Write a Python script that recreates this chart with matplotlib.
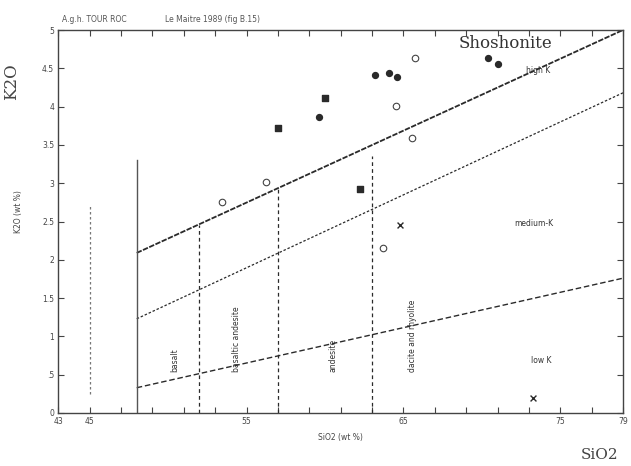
import matplotlib
matplotlib.use("Agg")
import matplotlib.pyplot as plt

# ---- data ----
filled_circle_x = [63.18, 64.10, 64.59, 59.65, 70.41, 71.04]
filled_circle_y = [4.41, 4.44, 4.38, 3.86, 4.63, 4.56]
filled_square_x = [60.0, 56.98, 62.23]
filled_square_y = [4.11, 3.72, 2.92]
open_circle_x = [65.73, 64.52, 65.54, 53.41, 56.22, 63.67]
open_circle_y = [4.64, 4.01, 3.59, 2.76, 3.01, 2.15]
cross_x = [64.78, 73.25]
cross_y = [2.46, 0.20]

# boundary lines (SiO2, K2O)
high_k_line_x = [48, 79]
high_k_line_y = [2.09, 5.0]
med_k_line_x = [48, 79]
med_k_line_y = [1.23, 4.18]
low_k_line_x = [48, 79]
low_k_line_y = [0.33, 1.76]

# vertical divisions: x, y bottom, y top
vert_solid = (48, 0.0, 3.3)
vert_dotted = (45, 0.25, 2.7)
vert_dashed_x = [52, 57, 63]
vert_dashed_top = [2.46, 2.93, 3.35]

rock_names = ["basalt", "basaltic andesite", "andesite", "dacite and rhyolite"]
rock_name_x = [50.44, 54.39, 60.5, 65.6]

x_tick_labels = ["43", "45", "55", "65", "75", "79"]
x_tick_vals = [43, 45, 55, 65, 75, 79]
y_tick_vals = [0, 0.5, 1, 1.5, 2, 2.5, 3, 3.5, 4, 4.5, 5]
y_tick_labels = ["0", ".5", "1", "1.5", "2", "2.5", "3", "3.5", "4", "4.5", "5"]

ink = "#2a2a2a"

fig = plt.figure(figsize=(6.31, 4.66), dpi=100)
ax = fig.add_axes([58.3 / 631, 1 - 413 / 466, (623 - 58.3) / 631, (413 - 30) / 466])
ax.set_xlim(43, 79)
ax.set_ylim(0, 5)

# lines
ax.plot(high_k_line_x, high_k_line_y, color=ink, lw=1.3, ls=(0, (3, 0.8)))
ax.plot(med_k_line_x, med_k_line_y, color=ink, lw=0.9, ls=(0, (2, 1.5)))
ax.plot(low_k_line_x, low_k_line_y, color=ink, lw=1.0, ls=(0, (4, 2)))
ax.plot([vert_solid[0]] * 2, vert_solid[1:], color="#555555", lw=1.0)
ax.plot([vert_dotted[0]] * 2, vert_dotted[1:], color="#777777", lw=0.9, ls=(0, (2, 2)))
for vx, vt in zip(vert_dashed_x, vert_dashed_top):
    ax.plot([vx, vx], [0, vt], color=ink, lw=0.9, ls=(0, (3, 2.5)))

# points
ax.scatter(filled_circle_x, filled_circle_y, s=18, marker="o", color=ink, zorder=3)
ax.scatter(filled_square_x, filled_square_y, s=22, marker="s", color=ink, zorder=3)
ax.scatter(open_circle_x, open_circle_y, s=22, marker="o", facecolor="white",
           edgecolor="#444444", linewidths=0.8, zorder=3)
ax.scatter(cross_x, cross_y, s=18, marker="x", color=ink, linewidths=1.0, zorder=3)

# rock names
for name, nx in zip(rock_names, rock_name_x):
    ax.text(nx, 0.53, name, rotation=90, ha="center", va="bottom", fontsize=5.5, color="#333333")

ax.text(73.3, 2.48, "medium-K", ha="center", va="center", fontsize=5.5, color="#333333")
ax.text(73.8, 0.69, "low K", ha="center", va="center", fontsize=5.5, color="#333333")
ax.text(73.6, 4.47, "high K", ha="center", va="center", fontsize=5.5, color="#333333")
ax.text(71.5, 4.83, "Shoshonite", ha="center", va="center", fontsize=12,
        family="DejaVu Serif", color="#333333")

# axes styling
for sp in ax.spines.values():
    sp.set_color("#444444")
    sp.set_linewidth(1.0)
ax.set_xticks(x_tick_vals)
ax.set_xticklabels(x_tick_labels, fontsize=5.5, color="#444444")
ax.set_xticks(list(range(45, 79, 2)), minor=True)
ax.set_yticks(y_tick_vals)
ax.set_yticklabels(y_tick_labels, fontsize=5.5, color="#444444")
ax.tick_params(axis="both", which="both", direction="in", top=True, right=True,
               color="#444444", length=4, width=0.8, pad=3)

ax.set_xlabel("SiO2 (wt %)", fontsize=5.5, color="#444444", labelpad=5)
ax.set_ylabel("K2O (wt %)", fontsize=5.5, color="#444444", labelpad=10)
ax.yaxis.set_label_coords(-0.062, 0.525)

fig.text(62 / 631, 1 - 20 / 466, "A.g.h. TOUR ROC", fontsize=5.5, color="#555555",
         ha="left", va="center")
fig.text(165 / 631, 1 - 20 / 466, "Le Maitre 1989 (fig B.15)", fontsize=5.5, color="#555555",
         ha="left", va="center")
fig.text(12 / 631, 1 - 82 / 466, "K2O", rotation=90, fontsize=12, family="DejaVu Serif",
         color="#444444", ha="center", va="center")
fig.text(600 / 631, 1 - 455 / 466, "SiO2", fontsize=11, family="DejaVu Serif",
         color="#444444", ha="center", va="center")

fig.savefig("out.png", dpi=100)
